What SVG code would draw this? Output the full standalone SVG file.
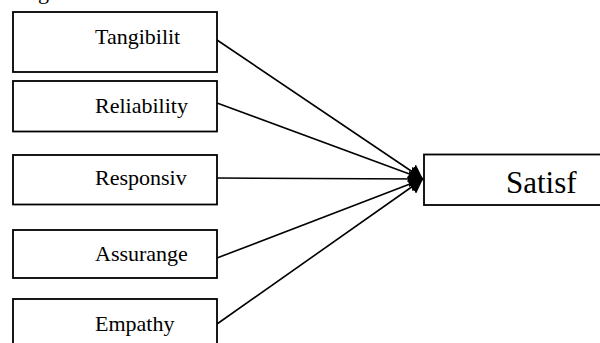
<svg xmlns="http://www.w3.org/2000/svg" width="600" height="343" viewBox="0 0 600 343">
<style>
.box{fill:#fff;stroke:#000;stroke-width:1.8}
.lbl{font-family:"Liberation Serif","Times New Roman",serif;font-size:22px;fill:#000}
.big{font-family:"Liberation Serif","Times New Roman",serif;font-size:31px;fill:#000}
.edge{stroke:#000;stroke-width:1.6;fill:none;marker-end:url(#ah)}
</style>
<defs>
<marker id="ah" viewBox="0 0 14 16" refX="14" refY="8" markerWidth="14" markerHeight="16" markerUnits="userSpaceOnUse" orient="auto">
<path d="M0,0 L14,8 L0,16 Z" fill="#000"/>
</marker>
</defs>
<text class="lbl" x="38" y="-1">g</text>
<g id="n1"><rect class="box" x="13" y="12" width="204" height="60"/><text class="lbl" x="95" y="44">Tangibilit</text></g>
<g id="n2"><rect class="box" x="13" y="81" width="204" height="50.5"/><text class="lbl" x="95" y="113">Reliability</text></g>
<g id="n3"><rect class="box" x="13" y="155" width="204" height="49.5"/><text class="lbl" x="95" y="185">Responsiv</text></g>
<g id="n4"><rect class="box" x="13" y="230" width="204" height="48"/><text class="lbl" x="95" y="261">Assurange</text></g>
<g id="n5"><rect class="box" x="13" y="299" width="204" height="60"/><text class="lbl" x="95" y="331">Empathy</text></g>
<g id="n6"><rect class="box" x="424" y="154.5" width="190" height="50.5"/><text class="big" x="506" y="193">Satisf</text></g>
<g id="edges">
<line class="edge" x1="217" y1="40" x2="423" y2="179"/>
<line class="edge" x1="217" y1="103" x2="423" y2="179"/>
<line class="edge" x1="217" y1="178" x2="423" y2="179"/>
<line class="edge" x1="217" y1="258" x2="423" y2="179"/>
<line class="edge" x1="217" y1="324" x2="423" y2="179"/>
</g>
</svg>
